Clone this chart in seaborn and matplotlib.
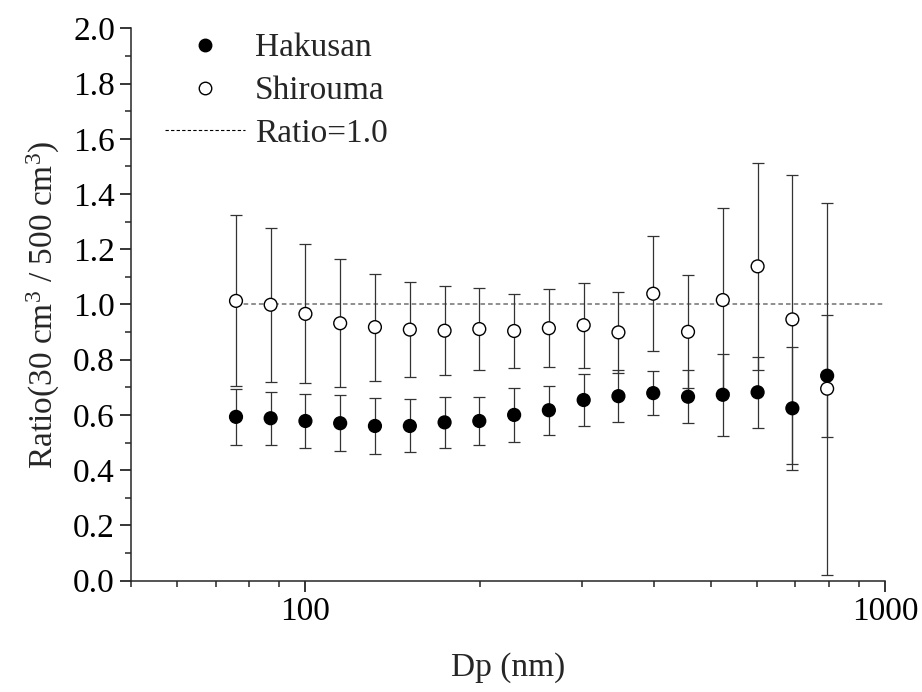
import numpy as np
import pandas as pd
import matplotlib
matplotlib.use("Agg")
import matplotlib.pyplot as plt
from matplotlib.lines import Line2D
from matplotlib.ticker import MultipleLocator, FuncFormatter, NullFormatter, LogLocator
import seaborn as sns

# particle diameter bins (nm)
dp_nm = [75.9, 87.1, 100.0, 114.8, 131.8, 151.4, 173.8, 199.5, 229.1,
         263.0, 302.0, 346.7, 398.1, 457.1, 524.8, 602.6, 691.8, 794.3]

# ratio (30 cm3 / 500 cm3), mean and standard deviation
hakusan_mean = [0.593, 0.588, 0.578, 0.570, 0.560, 0.560, 0.573, 0.578, 0.600,
                0.617, 0.654, 0.668, 0.679, 0.666, 0.673, 0.682, 0.624, 0.742]
hakusan_sd = [0.102, 0.096, 0.099, 0.102, 0.102, 0.096, 0.092, 0.086, 0.097,
              0.089, 0.094, 0.095, 0.080, 0.096, 0.149, 0.129, 0.223, 0.221]

shirouma_mean = [1.013, 0.999, 0.966, 0.932, 0.918, 0.909, 0.905, 0.911, 0.904,
                 0.914, 0.925, 0.899, 1.039, 0.901, 1.016, 1.138, 0.946, 0.695]
shirouma_sd = [0.310, 0.279, 0.252, 0.232, 0.194, 0.173, 0.162, 0.148, 0.134,
               0.141, 0.154, 0.147, 0.208, 0.205, 0.333, 0.376, 0.523, 0.673]

df = pd.concat([
    pd.DataFrame({"Dp": dp_nm, "ratio": hakusan_mean, "sd": hakusan_sd, "site": "Hakusan"}),
    pd.DataFrame({"Dp": dp_nm, "ratio": shirouma_mean, "sd": shirouma_sd, "site": "Shirouma"}),
], ignore_index=True)

sns.set_style("ticks")
plt.rcParams["font.family"] = ["Liberation Serif", "DejaVu Serif"]
plt.rcParams["mathtext.fontset"] = "custom"
plt.rcParams["mathtext.rm"] = "Liberation Serif"
plt.rcParams["mathtext.it"] = "Liberation Serif:italic"
plt.rcParams["axes.linewidth"] = 1.1

fig = plt.figure(figsize=(9.22, 6.92), dpi=100)
ax = fig.add_axes([0.142, 0.161, 0.818, 0.798])

# error bars first, markers on top
for site, g in df.groupby("site"):
    ax.errorbar(g["Dp"], g["ratio"], yerr=g["sd"], fmt="none",
                ecolor="#333333", elinewidth=0.9, capsize=4, capthick=0.9, zorder=1)

ax.hlines(1.0, dp_nm[0], 1000, colors="#707070", linewidth=1.1,
          linestyles=(0, (3, 2)), zorder=0.5)

sns.scatterplot(data=df, x="Dp", y="ratio", hue="site",
                palette={"Hakusan": "black", "Shirouma": "white"},
                edgecolor="black", linewidth=1.0, s=85, legend=False,
                ax=ax, zorder=3)

ax.set_xscale("log")
ax.set_xlim(50, 1000)
ax.set_ylim(0, 2.0)
ax.xaxis.set_major_locator(LogLocator(base=10))
ax.xaxis.set_major_formatter(FuncFormatter(lambda v, p: f"{v:g}"))
ax.xaxis.set_minor_locator(LogLocator(base=10, subs=np.arange(2, 10)))
ax.xaxis.set_minor_formatter(NullFormatter())
ax.yaxis.set_major_locator(MultipleLocator(0.2))
ax.yaxis.set_minor_locator(MultipleLocator(0.1))
ax.yaxis.set_major_formatter(FuncFormatter(lambda v, p: f"{v:.1f}"))

ax.tick_params(which="major", direction="out", length=8, width=1.1,
               labelsize=24, colors="black")
ax.tick_params(which="minor", direction="out", length=4.5, width=1.1)
sns.despine(ax=ax)

ax.set_xlabel("Dp (nm)", fontsize=24, labelpad=18)
ax.set_ylabel(r"Ratio(30 cm$^{3}$ / 500 cm$^{3}$)", fontsize=24, labelpad=8)

handles = [
    Line2D([], [], marker="o", linestyle="none", markerfacecolor="black",
           markeredgecolor="black", markersize=9),
    Line2D([], [], marker="o", linestyle="none", markerfacecolor="white",
           markeredgecolor="black", markeredgewidth=1.0, markersize=9),
    Line2D([], [], color="black", linewidth=0.8, linestyle=(0, (3, 2))),
]
ax.legend(handles, ["Hakusan", "Shirouma", "Ratio=1.0"], loc="upper left",
          bbox_to_anchor=(0.027, 1.016), frameon=False, fontsize=24,
          handlelength=2.4, handletextpad=0.3, labelspacing=0.37,
          borderaxespad=0)

fig.savefig("out.png", dpi=100)
